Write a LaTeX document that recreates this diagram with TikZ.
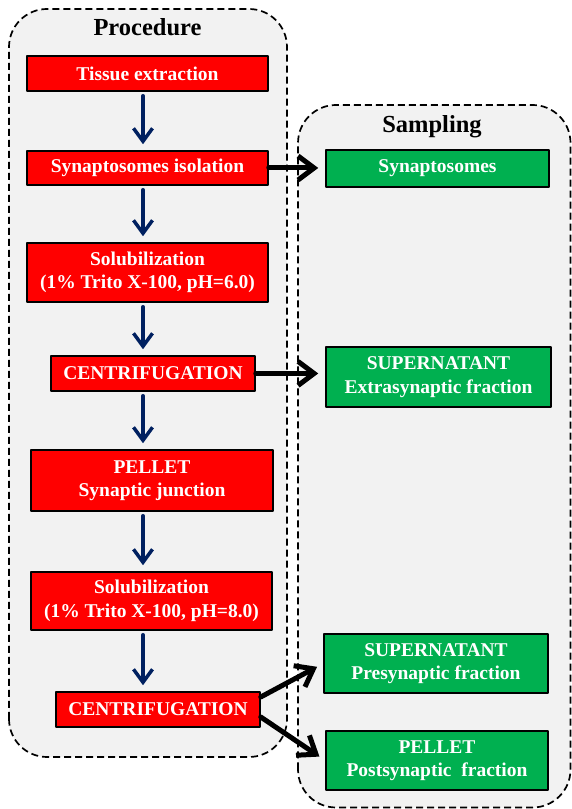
\documentclass[tikz,border=0pt]{standalone}
\usepackage{fontspec}
\setmainfont{Liberation Serif}
\usetikzlibrary{arrows.meta}
\definecolor{FlowRed}{RGB}{255,0,0}
\definecolor{FlowGreen}{RGB}{0,176,80}
\definecolor{FlowNavy}{RGB}{0,32,96}
\definecolor{FlowPanel}{RGB}{242,242,242}

\begin{document}
\begin{tikzpicture}[x=1bp,y=1bp,line cap=round,line join=round]
  \path[use as bounding box] (0,0) rectangle (572,809);
  \fill[white] (0,0) rectangle (572,809);

  \tikzset{
    panel/.style={rounded corners=38bp,line width=1.7bp,line cap=butt,
      dash pattern=on 7bp off 4bp,draw=black,fill=FlowPanel},
    heading/.style={anchor=base,inner sep=0pt,
      font=\fontsize{24.5bp}{24.5bp}\selectfont\bfseries},
    stepbox/.style={draw=black,line width=1.5bp,fill=FlowRed,text=white,
      inner sep=0pt,align=center,font=\fontsize{19.5bp}{23.5bp}\selectfont\bfseries},
    samplebox/.style={stepbox,fill=FlowGreen},
    downarrow/.style={-{Straight Barb[length=13bp,width=19bp]},line width=3.5bp,
      FlowNavy,shorten <=4bp,shorten >=6bp},
    outarrow/.style={-{Straight Barb[length=16bp,width=24bp]},line width=5bp,
      black,shorten >=7bp},
  }

  % panels
  \draw[panel] (9,52) rectangle (287,800);
  \draw[panel] (298,1.5) rectangle (570.5,704);
  \node[heading] (proctitle) at (147.5,773) {Procedure};
  \node[heading] (samptitle) at (432,676) {Sampling};

  % procedure steps
  \node[stepbox,minimum width=241bp,minimum height=35bp] (tissue) at (147.5,735.5)
    {Tissue extraction};
  \node[stepbox,minimum width=241bp,minimum height=34bp] (iso) at (147.5,641)
    {Synaptosomes isolation};
  \node[stepbox,minimum width=241bp,minimum height=59bp] (sol1) at (147.5,536.5)
    {Solubilization\\(1\% Trito X-100, pH=6.0)};
  \node[stepbox,minimum width=204bp,minimum height=35bp] (cen1) at (153,435.5)
    {CENTRIFUGATION};
  \node[stepbox,minimum width=242bp,minimum height=61bp] (pel) at (152,328.5)
    {PELLET\\Synaptic junction};
  \node[stepbox,minimum width=241bp,minimum height=58bp] (sol2) at (151.5,208)
    {Solubilization\\(1\% Trito X-100, pH=8.0)};
  \node[stepbox,minimum width=204bp,minimum height=35bp] (cen2) at (158,99.5)
    {CENTRIFUGATION};

  % samples
  \node[samplebox,minimum width=223bp,minimum height=37bp] (syn) at (437.5,640.5)
    {Synaptosomes};
  \node[samplebox,minimum width=225bp,minimum height=60bp] (extra) at (438.5,432)
    {SUPERNATANT\\Extrasynaptic fraction};
  \node[samplebox,minimum width=224bp,minimum height=59bp] (pre) at (436,145.5)
    {SUPERNATANT\\Presynaptic fraction};
  \node[samplebox,minimum width=222bp,minimum height=59bp] (post) at (437,48.5)
    {PELLET\\Postsynaptic\ \ fraction};

  % flow
  \coordinate (spine) at (143,0);
  \draw[downarrow] (tissue.south -| spine) -- (iso.north -| spine);
  \draw[downarrow] (iso.south -| spine) -- (sol1.north -| spine);
  \draw[downarrow] (sol1.south -| spine) -- (cen1.north -| spine);
  \draw[downarrow] (cen1.south -| spine) -- (pel.north -| spine);
  \draw[downarrow] (pel.south -| spine) -- (sol2.north -| spine);
  \draw[downarrow] (sol2.south -| spine) -- (cen2.north -| spine);

  \draw[outarrow] (iso.east) -- (iso.east -| syn.west);
  \draw[outarrow] (cen1.east) -- (cen1.east -| extra.west);
  \draw[outarrow] ([yshift=12.5bp]cen2.east) -- (pre.west);
  \draw[outarrow] ([yshift=-7.5bp]cen2.east) -- (post.west);
\end{tikzpicture}
\end{document}
